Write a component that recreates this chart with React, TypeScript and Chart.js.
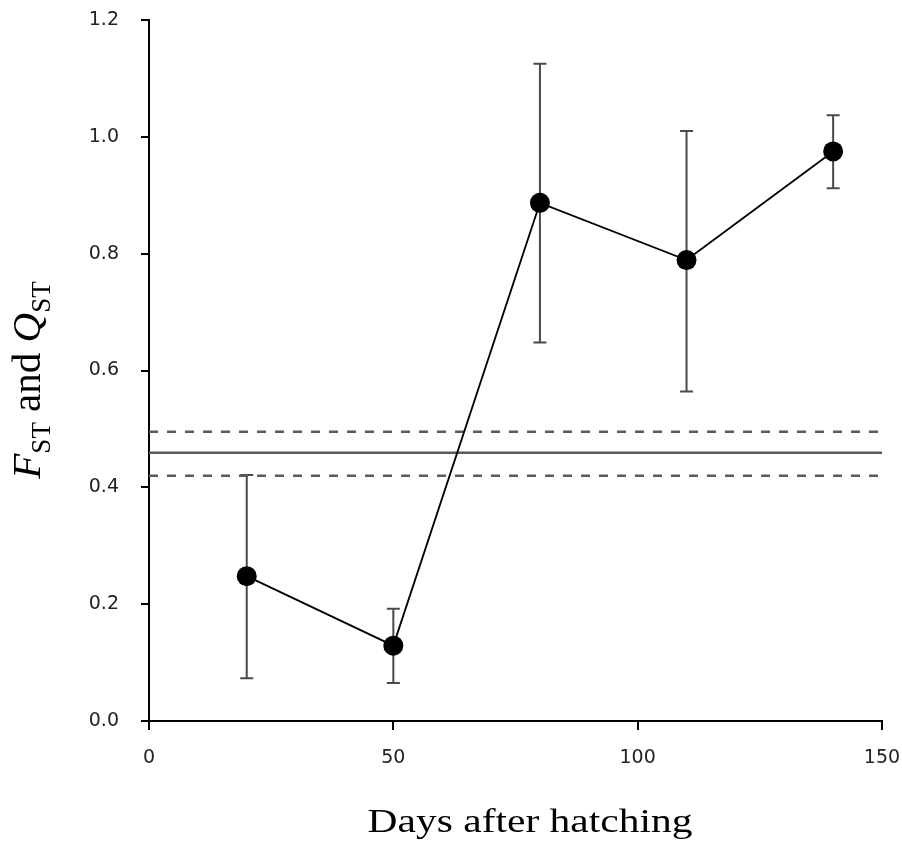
import React, { useEffect, useRef } from "react";
import { Chart, registerables } from "chart.js";

Chart.register(...registerables);

// ---- data ----
const days = [20, 50, 80, 110, 140];
const qstValues = [0.248, 0.129, 0.887, 0.789, 0.975];
const qstLower = [0.073, 0.065, 0.648, 0.564, 0.912];
const qstUpper = [0.421, 0.192, 1.125, 1.01, 1.037];
const fstMean = 0.459;
const fstLowerCI = 0.42;
const fstUpperCI = 0.495;
const xRange = [0, 150];
const yRange = [0, 1.2];
const xTitle = "Days after hatching";

const errorBarPlugin = {
  id: "errorBars",
  beforeDatasetsDraw(chart: any) {
    const { ctx, scales } = chart;
    const xs = scales.x;
    const ys = scales.y;
    ctx.save();
    ctx.strokeStyle = "#4a4a4a";
    ctx.lineWidth = 2;
    for (let i = 0; i < days.length; i++) {
      const px = xs.getPixelForValue(days[i]);
      const pLo = ys.getPixelForValue(qstLower[i]);
      const pHi = ys.getPixelForValue(qstUpper[i]);
      ctx.beginPath();
      ctx.moveTo(px, pLo);
      ctx.lineTo(px, pHi);
      ctx.moveTo(px - 6.5, pLo);
      ctx.lineTo(px + 6.5, pLo);
      ctx.moveTo(px - 6.5, pHi);
      ctx.lineTo(px + 6.5, pHi);
      ctx.stroke();
    }
    ctx.restore();
  },
};

const titlesPlugin = {
  id: "titles",
  afterDraw(chart: any) {
    const { ctx, chartArea } = chart;
    ctx.save();
    // x title
    ctx.fillStyle = "#000";
    ctx.font = "34px 'Liberation Serif', 'Times New Roman', serif";
    ctx.textAlign = "center";
    ctx.textBaseline = "alphabetic";
    ctx.translate(530, 832);
    ctx.scale(1.22, 1);
    ctx.fillText(xTitle, 0, 0);
    ctx.restore();

    // y title with subscripts
    ctx.save();
    ctx.fillStyle = "#000";
    const main = "41px 'Liberation Serif', 'Times New Roman', serif";
    const mainIt = "italic 41px 'Liberation Serif', 'Times New Roman', serif";
    const sub = "27px 'Liberation Serif', 'Times New Roman', serif";
    const parts: [string, string, number][] = [
      ["F", mainIt, 0],
      ["ST", sub, 10],
      [" and ", main, 0],
      ["Q", mainIt, 0],
      ["ST", sub, 10],
    ];
    let total = 0;
    for (const [t, f] of parts) {
      ctx.font = f;
      total += ctx.measureText(t).width;
    }
    const cy = (chartArea.top + chartArea.bottom) / 2 + 9.5;
    ctx.translate(40, cy);
    ctx.rotate(-Math.PI / 2);
    ctx.textAlign = "left";
    ctx.textBaseline = "alphabetic";
    let x = -total / 2;
    for (const [t, f, dy] of parts) {
      ctx.font = f;
      ctx.fillText(t, x, dy);
      x += ctx.measureText(t).width;
    }
    ctx.restore();
  },
};

export default function App() {
  const canvasRef = useRef<HTMLCanvasElement>(null);

  useEffect(() => {
    if (!canvasRef.current) return;
    const refLine = (y: number, dash: number[], width: number) => ({
      type: "line" as const,
      data: [
        { x: xRange[0], y },
        { x: xRange[1], y },
      ],
      borderColor: "#5a5a5a",
      borderWidth: width,
      borderDash: dash,
      pointRadius: 0,
      fill: false,
      order: 2,
    });
    const chart = new Chart(canvasRef.current, {
      type: "line",
      data: {
        datasets: [
          {
            label: "QST",
            data: days.map((d, i) => ({ x: d, y: qstValues[i] })),
            borderColor: "#000",
            borderWidth: 1.8,
            pointRadius: 10,
            pointBackgroundColor: "#000",
            pointBorderColor: "#000",
            pointBorderWidth: 0,
            fill: false,
            order: 0,
          },
          refLine(fstMean, [], 2.5),
          refLine(fstUpperCI, [9, 9], 2.5),
          refLine(fstLowerCI, [9, 9], 2.5),
        ] as any,
      },
      options: {
        animation: false,
        responsive: false,
        maintainAspectRatio: false,
        layout: { padding: { top: 20, right: 20, left: 0, bottom: 0 } },
        plugins: {
          legend: { display: false },
          tooltip: { enabled: false },
        },
        scales: {
          x: {
            type: "linear",
            min: xRange[0],
            max: xRange[1],
            afterFit: (s: any) => {
              s.height = 123;
              s.paddingLeft = 0;
              s.paddingRight = 0;
            },
            ticks: {
              stepSize: 50,
              padding: 17,
              color: "#222",
              font: { family: "'DejaVu Sans', sans-serif", size: 19 },
            },
            grid: {
              drawOnChartArea: false,
              drawTicks: true,
              tickLength: 9,
              color: "#000",
              lineWidth: 2,
            },
            border: { display: true, color: "#000", width: 2 },
          },
          y: {
            type: "linear",
            min: yRange[0],
            max: yRange[1],
            afterFit: (s: any) => {
              s.width = 149;
              s.paddingTop = 0;
              s.paddingBottom = 0;
            },
            ticks: {
              stepSize: 0.2,
              padding: 22,
              color: "#222",
              font: { family: "'DejaVu Sans', sans-serif", size: 19 },
              callback: (v: any) => Number(v).toFixed(1),
            },
            grid: {
              drawOnChartArea: false,
              drawTicks: true,
              tickLength: 8,
              color: "#000",
              lineWidth: 2,
            },
            border: { display: true, color: "#000", width: 2 },
          },
        },
      },
      plugins: [errorBarPlugin, titlesPlugin],
    });
    return () => chart.destroy();
  }, []);

  return (
    <div style={{ position: "absolute", left: 0, top: 0, width: 902, height: 844, background: "#fff" }}>
      <canvas ref={canvasRef} width={902} height={844} style={{ width: 902, height: 844 }} />
    </div>
  );
}
